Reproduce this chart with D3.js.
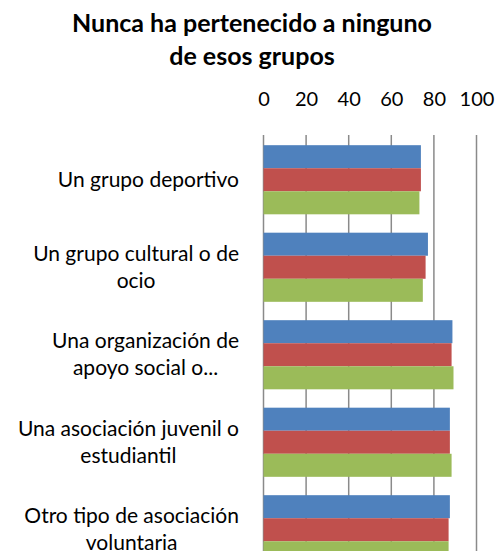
<!DOCTYPE html>
<html>
<head>
<meta charset="utf-8">
<script src="https://cdn.jsdelivr.net/npm/d3@7"></script>
<style>
  html, body { margin: 0; padding: 0; background: #fff; }
  svg { display: block; font-family: Lato, "Open Sans", sans-serif; }
</style>
</head>
<body>
<svg id="chart" width="502" height="551"></svg>
<script>
// datos
const categories = [
    "Un grupo deportivo",
    "Un grupo cultural o de\nocio",
    "Una organización de\napoyo social o...",
    "Una asociación juvenil o\nestudiantil",
    "Otro tipo de asociación\nvoluntaria"
];
const seriesNames = ["Serie 1", "Serie 2", "Serie 3"];
const serie1 = [73.9, 77.2, 88.7, 87.5, 87.5];
const serie2 = [73.9, 76.1, 88.3, 87.5, 86.9];
const serie3 = [73.2, 74.8, 89.2, 88.3, 86.9];
const colors = ["#4F81BD", "#C0504D", "#9BBB59"];
const tickValues = [0, 20, 40, 60, 80, 100];

const svg = d3.select("#chart");
const allSeries = [serie1, serie2, serie3];

// escalas
const x = d3.scaleLinear().domain([0, 100]).range([263.5, 476.5]);
const y = d3.scaleBand()
    .domain(categories)
    .range([136, 136 + 5 * 87.5])
    .paddingInner(0.21)
    .paddingOuter(0.105);
const ySub = d3.scaleBand()
    .domain(d3.range(seriesNames.length))
    .range([0, y.bandwidth()]);

// titulo
svg.append("text")
    .attr("x", 252)
    .attr("y", 32)
    .attr("text-anchor", "middle")
    .attr("font-size", 25)
    .attr("font-weight", "bold")
    .selectAll("tspan")
    .data(["Nunca ha pertenecido a ninguno", "de esos grupos"])
    .enter()
    .append("tspan")
    .attr("x", 252)
    .attr("dy", (d, i) => i === 0 ? 0 : 33)
    .text(d => d);

// eje superior con lineas de cuadricula
const axis = d3.axisTop(x)
    .tickValues(tickValues)
    .tickSize(0)
    .tickPadding(0);
const gAxis = svg.append("g")
    .attr("transform", "translate(0,106)")
    .call(axis);
gAxis.select(".domain").remove();
gAxis.selectAll("text")
    .attr("font-size", 20)
    .attr("font-family", "Lato, sans-serif")
    .attr("fill", "#000");

svg.append("g")
    .selectAll("line")
    .data(tickValues)
    .enter()
    .append("line")
    .attr("x1", d => x(d))
    .attr("x2", d => x(d))
    .attr("y1", 135)
    .attr("y2", 551)
    .attr("stroke", "#8a8a8a")
    .attr("stroke-width", 1.5);

// barras
const groups = svg.append("g")
    .selectAll("g")
    .data(categories)
    .enter()
    .append("g")
    .attr("transform", d => `translate(0,${y(d)})`);

groups.selectAll("rect")
    .data((d, i) => allSeries.map((s, k) => ({ k: k, v: s[i] })))
    .enter()
    .append("rect")
    .attr("x", x(0))
    .attr("y", d => ySub(d.k))
    .attr("width", d => x(d.v) - x(0))
    .attr("height", ySub.bandwidth())
    .attr("fill", d => colors[d.k]);

// etiquetas de categoria (lineas centradas, bloque alineado a la derecha)
groups.append("text")
    .attr("text-anchor", "middle")
    .attr("font-size", 21)
    .attr("fill", "#000")
    .each(function(d) {
        const lines = d.split("\n");
        const lh = 27;
        const start = y.bandwidth() / 2 - (lines.length - 1) * lh / 2 + 7;
        const t = d3.select(this);
        t.selectAll("tspan")
            .data(lines)
            .enter()
            .append("tspan")
            .attr("x", 0)
            .attr("y", (l, i) => start + i * lh)
            .text(l => l);
        const w = this.getBBox().width;
        t.selectAll("tspan").attr("x", 239 - w / 2);
    });
</script>
</body>
</html>
